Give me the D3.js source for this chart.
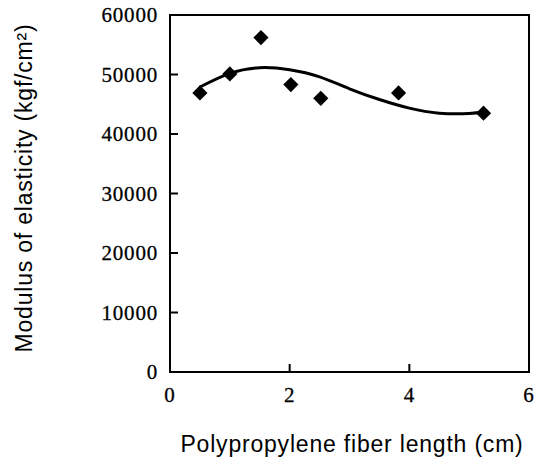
<!DOCTYPE html>
<html>
<head>
<meta charset="utf-8">
<script src="https://cdn.jsdelivr.net/npm/d3@7"></script>
<style>
  body { margin: 0; background: #fff; }
  .tick-label { font-family: "Liberation Serif", "Times New Roman", serif; font-size: 21px; letter-spacing: 0.8px; fill: #000; stroke: #000; stroke-width: 0.3px; }
  .axis-title { font-family: "Liberation Sans", Arial, sans-serif; font-size: 23px; letter-spacing: 0.8px; fill: #000; }
</style>
</head>
<body>
<div id="chart"></div>
<script>
(function() {
    const width = 540,
          height = 460;

    // measured points (fiber length cm, modulus kgf/cm2)
    const fiberLength = [0.5, 1.0, 1.52, 2.02, 2.52, 3.82, 5.24];
    const modulus = [46900, 50100, 56200, 48300, 46000, 46900, 43500];

    // trend curve
    const curveX = [0.5, 1.0, 1.5, 2.0, 2.5, 3.0, 3.5, 4.0, 4.5, 5.0, 5.24];
    const curveY = [47900, 50200, 51150, 50800, 49600, 47600, 45800, 44350, 43500, 43450, 43750];

    const xTicks = [0, 2, 4, 6];
    const yTicks = [0, 10000, 20000, 30000, 40000, 50000, 60000];

    const margin = {top: 15, right: 11, bottom: 88, left: 170};

    const svg = d3.select("#chart")
        .append("svg")
        .attr("width", width)
        .attr("height", height)

    const x = d3.scaleLinear()
        .domain([0, 6])
        .range([margin.left, width - margin.right])
    const y = d3.scaleLinear()
        .domain([0, 60000])
        .range([height - margin.bottom, margin.top])

    // frame
    svg.append("rect")
        .attr("x", x(0))
        .attr("y", y(60000))
        .attr("width", x(6) - x(0))
        .attr("height", y(0) - y(60000))
        .attr("fill", "none")
        .attr("stroke", "#000")
        .attr("stroke-width", 2)

    // inward ticks
    svg.selectAll(".ytick")
        .data(yTicks.slice(1, -1))
        .enter().append("line")
        .attr("x1", x(0)).attr("x2", x(0) + 8)
        .attr("y1", d => y(d)).attr("y2", d => y(d))
        .attr("stroke", "#000")
        .attr("stroke-width", 2)
    svg.selectAll(".xtick")
        .data(xTicks.slice(1, -1))
        .enter().append("line")
        .attr("x1", d => x(d)).attr("x2", d => x(d))
        .attr("y1", y(0)).attr("y2", y(0) - 8)
        .attr("stroke", "#000")
        .attr("stroke-width", 2)

    svg.selectAll(".ylab")
        .data(yTicks)
        .enter().append("text")
        .attr("class", "tick-label")
        .attr("x", x(0) - 12)
        .attr("y", d => y(d))
        .attr("dy", "0.34em")
        .attr("text-anchor", "end")
        .text(d => d)

    svg.selectAll(".xlab")
        .data(xTicks)
        .enter().append("text")
        .attr("class", "tick-label")
        .attr("x", d => x(d))
        .attr("y", y(0) + 23)
        .attr("dy", "0.34em")
        .attr("text-anchor", "middle")
        .text(d => d)

    svg.append("text")
        .attr("class", "axis-title")
        .attr("x", 352)
        .attr("y", 452)
        .attr("text-anchor", "middle")
        .text("Polypropylene fiber length (cm)")

    svg.append("text")
        .attr("class", "axis-title")
        .attr("transform", "translate(32,188) rotate(-90)")
        .attr("text-anchor", "middle")
        .text("Modulus of elasticity (kgf/cm²)")

    // trend line
    const line = d3.line()
        .x(d => x(d[0]))
        .y(d => y(d[1]))
        .curve(d3.curveNatural)
    svg.append("path")
        .datum(curveX.map((v, i) => [v, curveY[i]]))
        .attr("d", line)
        .attr("fill", "none")
        .attr("stroke", "#000")
        .attr("stroke-width", 3)

    // diamonds
    const diamond = d3.symbol().type(d3.symbolSquare).size(115)
    svg.selectAll(".pt")
        .data(fiberLength.map((v, i) => [v, modulus[i]]))
        .enter().append("path")
        .attr("class", "pt")
        .attr("d", diamond)
        .attr("transform", d => `translate(${x(d[0])},${y(d[1])}) rotate(45)`)
        .attr("fill", "#000")
})();
</script>
</body>
</html>
